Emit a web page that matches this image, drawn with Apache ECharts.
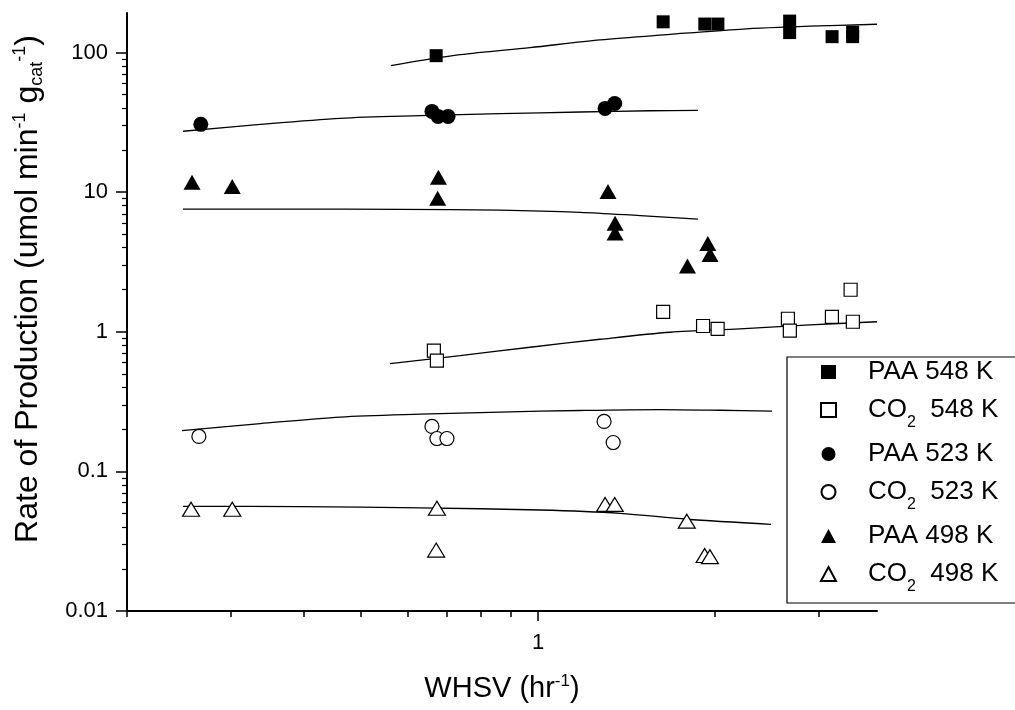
<!DOCTYPE html>
<html><head><meta charset="utf-8">
<script src="https://cdn.jsdelivr.net/npm/echarts@6/dist/echarts.min.js"></script>
<style>html,body{margin:0;padding:0;background:#fff}#c{width:1015px;height:710px}</style>
</head><body><div id="c"></div><script>
const FONT = '"Liberation Sans", Arial, Helvetica, sans-serif';

// ---- measured points (WHSV, rate) ----
const paa548X = [0.671, 1.632, 1.921, 2.022, 2.678, 2.678, 3.162, 3.427, 3.427];
const paa548Y = [95, 166, 160, 160, 168, 139, 130, 140, 130];
const co2548X = [0.665, 0.673, 1.632, 1.908, 2.02, 2.66, 2.68, 3.16, 3.43, 3.40];
const co2548Y = [0.732, 0.621, 1.39, 1.10, 1.05, 1.24, 1.02, 1.28, 1.18, 2.0];
const paa523X = [0.267, 0.66, 0.676, 0.703, 1.30, 1.35];
const paa523Y = [30.6, 37.9, 34.9, 34.9, 39.8, 43.2];
const co2523X = [0.265, 0.66, 0.673, 0.70, 1.295, 1.342];
const co2523Y = [0.178, 0.21, 0.172, 0.172, 0.228, 0.161];
const paa498X = [0.258, 0.302, 0.677, 0.675, 1.315, 1.352, 1.352, 1.944, 1.961, 1.795];
const paa498Y = [11.8, 11.0, 12.8, 9.06, 10.1, 6.0, 5.1, 4.29, 3.58, 2.96];
const co2498X = [0.257, 0.302, 0.673, 0.671, 1.30, 1.35, 1.79, 1.92, 1.96];
const co2498Y = [0.0535, 0.0535, 0.0544, 0.0273, 0.058, 0.058, 0.044, 0.025, 0.0245];

// ---- fitted curves ----
const fitPaa548X = [0.562, 0.737, 0.969, 1.275, 1.677, 2.205, 2.898, 3.77];
const fitPaa548Y = [80.7, 96.5, 108.5, 123.3, 135.0, 146.8, 154.4, 159.5];
const fitPaa523X = [0.249, 0.337, 0.461, 0.630, 0.862, 1.179, 1.55, 1.87];
const fitPaa523Y = [27.3, 30.6, 33.8, 35.3, 36.5, 37.5, 38.3, 38.5];
const fitPaa498X = [0.249, 0.379, 0.582, 0.862, 1.179, 1.491, 1.87];
const fitPaa498Y = [7.56, 7.56, 7.53, 7.43, 7.17, 6.79, 6.42];
const fitCo2548X = [0.56, 0.737, 0.969, 1.275, 1.677, 2.205, 2.898, 3.77];
const fitCo2548Y = [0.591, 0.674, 0.775, 0.884, 0.992, 1.05, 1.12, 1.18];
const fitCo2523X = [0.248, 0.337, 0.461, 0.630, 0.862, 1.179, 1.61, 2.04, 2.50];
const fitCo2523Y = [0.196, 0.22, 0.245, 0.257, 0.266, 0.273, 0.277, 0.274, 0.27];
const fitCo2498X = [0.249, 0.394, 0.630, 1.008, 1.379, 1.79, 2.49];
const fitCo2498Y = [0.0562, 0.0559, 0.0548, 0.0529, 0.0501, 0.0454, 0.0418];

// ---- axes ----
const xRange = [0.2, 3.77];
const yRange = [0.01, 192];
const xTickLabels = [1];
const xMinorTicks = [0.2, 0.3, 0.4, 0.5, 0.6, 0.7, 0.8, 0.9, 2, 3];
const yTickLabels = [0.01, 0.1, 1, 10, 100];
const yMinorTicks = [0.02,0.03,0.04,0.05,0.06,0.07,0.08,0.09,0.2,0.3,0.4,0.5,0.6,0.7,0.8,0.9,2,3,4,5,6,7,8,9,20,30,40,50,60,70,80,90];
const seriesNames = ['PAA 548 K', 'CO2 548 K', 'PAA 523 K', 'CO2 523 K', 'PAA 498 K', 'CO2 498 K'];

const pairs = (xs, ys) => xs.map((x, i) => [x, ys[i]]);
const BLACK = '#000';
const hollow = { color: '#fff', borderColor: BLACK, borderWidth: 1.2, opacity: 1 };
const solid = { color: BLACK, opacity: 1 };

function scatter(name, xs, ys, symbol, size, style) {
  return { type: 'scatter', name, data: pairs(xs, ys), symbol, symbolSize: size,
    itemStyle: style, z: 3, silent: true };
}
function fit(name, xs, ys) {
  return { type: 'line', name, data: pairs(xs, ys), smooth: 0.3,
    showSymbol: false, symbol: 'none',
    lineStyle: { color: BLACK, width: 1.3 }, z: 2, silent: true };
}

const chart = echarts.init(document.getElementById('c'), null, { renderer: 'canvas' });
chart.setOption({
  animation: false,
  backgroundColor: '#fff',
  grid: { left: 127, right: 138, top: 13, bottom: 97, containLabel: false },
  xAxis: [{
    type: 'log', logBase: 10, min: xRange[0], max: xRange[1],
    axisLine: { lineStyle: { color: BLACK, width: 2 } },
    axisTick: { customValues: xTickLabels, length: 10, lineStyle: { color: BLACK, width: 1.5 } },
    axisLabel: { customValues: xTickLabels, fontSize: 22, color: BLACK, fontFamily: FONT, margin: 21 },
    splitLine: { show: false },
    name: 'WHSV (hr{sup|-1})', nameLocation: 'middle', nameGap: 62,
    nameTextStyle: { fontSize: 29, lineHeight: 32, color: BLACK, fontFamily: FONT,
      rich: { sup: { fontSize: 17, lineHeight: 16, verticalAlign: 'top', color: BLACK, fontFamily: FONT } } }
  }, {
    type: 'log', logBase: 10, min: xRange[0], max: xRange[1], position: 'bottom',
    axisLine: { show: false },
    axisTick: { customValues: xMinorTicks, length: 6, lineStyle: { color: BLACK, width: 1.5 } },
    axisLabel: { show: false }, splitLine: { show: false }
  }],
  yAxis: [{
    type: 'log', logBase: 10, min: yRange[0], max: yRange[1],
    axisLine: { show: true, lineStyle: { color: BLACK, width: 2 } },
    axisTick: { show: true, customValues: yTickLabels, length: 11, lineStyle: { color: BLACK, width: 1.5 } },
    axisLabel: { customValues: yTickLabels, fontSize: 22, color: BLACK, fontFamily: FONT, margin: 19 },
    splitLine: { show: false },
    name: 'Rate of Production (umol min{sup|-1} g{sub|cat}{sup|-1})',
    nameLocation: 'middle', nameRotate: 90, nameGap: 81,
    nameTextStyle: { fontSize: 32, lineHeight: 35, color: BLACK, fontFamily: FONT, padding: [0, 0, 0, 46],
      rich: {
        sup: { fontSize: 18, lineHeight: 12, verticalAlign: 'top', color: BLACK, fontFamily: FONT },
        sub: { fontSize: 18, lineHeight: 22, verticalAlign: 'bottom', color: BLACK, fontFamily: FONT }
      } }
  }, {
    type: 'log', logBase: 10, min: yRange[0], max: yRange[1], position: 'left',
    axisLine: { show: false },
    axisTick: { show: true, customValues: yMinorTicks, length: 5, lineStyle: { color: BLACK, width: 1.2 } },
    axisLabel: { show: false }, splitLine: { show: false }
  }],
  legend: {
    data: seriesNames, orient: 'vertical', left: 787, top: 357,
    padding: [0, 40, 8, 33], itemGap: 8, itemWidth: 15, itemHeight: 14,
    borderColor: BLACK, borderWidth: 1.2, backgroundColor: '#fff', selectedMode: false,
    formatter: n => n.replace('CO2', 'CO{sub|2} '),
    textStyle: { fontSize: 26, lineHeight: 30, color: BLACK, fontFamily: FONT, padding: [0, 0, 0, 27],
      rich: { sub: { fontSize: 16, lineHeight: 4, padding: [0, 0, -6, 0], verticalAlign: 'bottom',
        color: BLACK, fontFamily: FONT } } }
  },
  series: [
    fit('fit PAA 548 K', fitPaa548X, fitPaa548Y),
    fit('fit PAA 523 K', fitPaa523X, fitPaa523Y),
    fit('fit PAA 498 K', fitPaa498X, fitPaa498Y),
    fit('fit CO2 548 K', fitCo2548X, fitCo2548Y),
    fit('fit CO2 523 K', fitCo2523X, fitCo2523Y),
    fit('fit CO2 498 K', fitCo2498X, fitCo2498Y),
    scatter(seriesNames[0], paa548X, paa548Y, 'rect', 13, solid),
    scatter(seriesNames[1], co2548X, co2548Y, 'rect', 13, hollow),
    scatter(seriesNames[2], paa523X, paa523Y, 'circle', 15, solid),
    scatter(seriesNames[3], co2523X, co2523Y, 'circle', 14, hollow),
    scatter(seriesNames[4], paa498X, paa498Y, 'triangle', [17, 15], solid),
    scatter(seriesNames[5], co2498X, co2498Y, 'triangle', [17, 14], hollow)
  ]
});
</script></body></html>
